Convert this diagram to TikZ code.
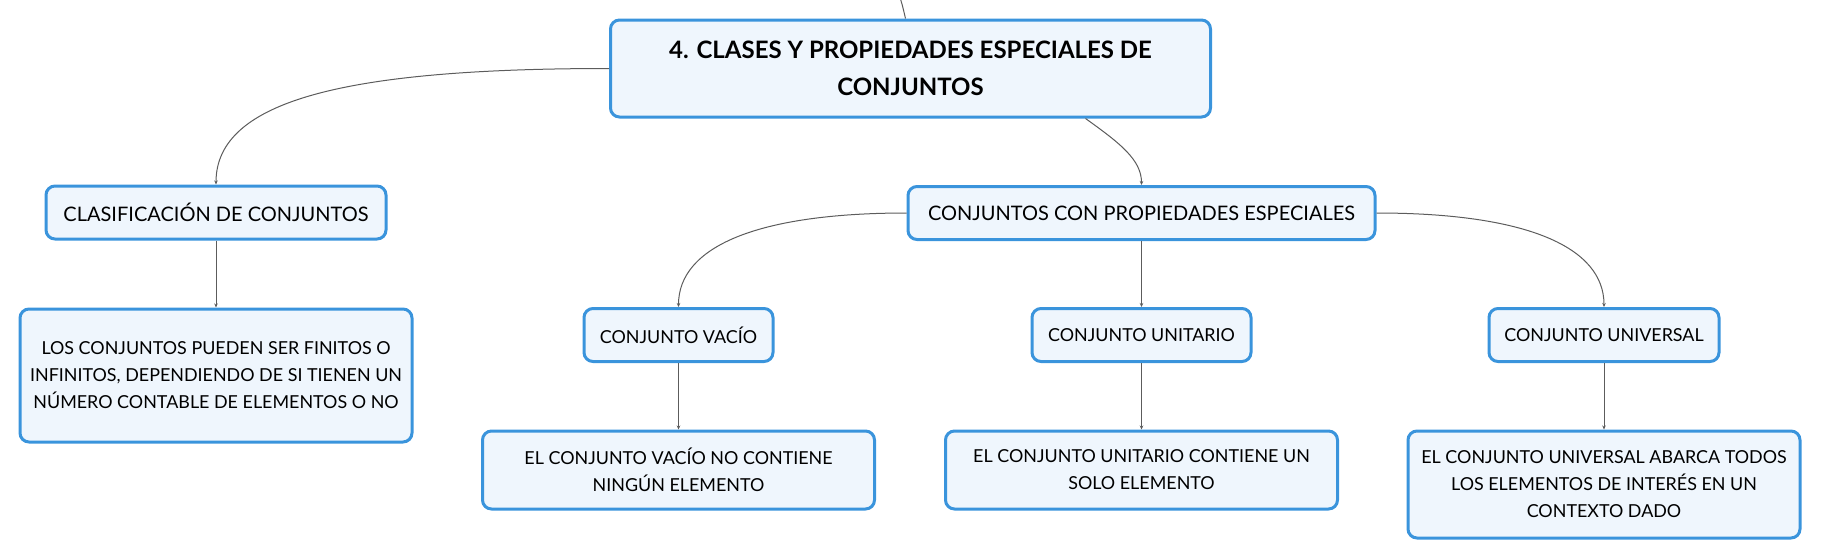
\documentclass[tikz,border=0pt]{standalone}
\usepackage{fontspec}
\setmainfont{Lato}
\usetikzlibrary{arrows.meta}
\definecolor{boxline}{HTML}{3A94DC}
\definecolor{boxfill}{HTML}{EFF6FD}
\definecolor{linkgray}{HTML}{5C5C5C}
\begin{document}
\begin{tikzpicture}[x=1pt,y=-1pt,
		box/.style={draw=boxline, fill=boxfill, line width=3pt, rounded corners=9pt, align=center, inner sep=0pt},
		head/.style={box, font=\fontsize{20}{24}\selectfont, minimum height=53},
		subhead/.style={head, font=\fontsize{17.9}{24}\selectfont},
		body/.style={box, font=\fontsize{17.9}{27}\selectfont, minimum width=392},
		link/.style={draw=linkgray, line width=1pt, -{Stealth[length=4pt,width=3.5pt]}}]
		\useasboundingbox (0,0) rectangle (1821,558);
		\node (main) [box, font=\bfseries\fontsize{24}{37}\selectfont, minimum width=600, minimum height=97] at (910.5,68.5) {4. CLASES Y PROPIEDADES ESPECIALES DE\\CONJUNTOS};
		\node (clasif) [head, minimum width=340] at (216,212.5) {CLASIFICACIÓN DE CONJUNTOS};
		\node (finitos) [body, minimum height=133] at (216,375.5) {LOS CONJUNTOS PUEDEN SER FINITOS O\\INFINITOS, DEPENDIENDO DE SI TIENEN UN\\NÚMERO CONTABLE DE ELEMENTOS O NO};
		\node (especiales) [head, minimum width=467] at (1141.5,213) {CONJUNTOS CON PROPIEDADES ESPECIALES};
		\node (vacio) [subhead, minimum width=189] at (678.5,335) {CONJUNTO VACÍO};
		\node (unitario) [subhead, minimum width=219] at (1141.5,335) {CONJUNTO UNITARIO};
		\node (universal) [subhead, minimum width=230] at (1604,335) {CONJUNTO UNIVERSAL};
		\node (vaciotxt) [body, minimum height=78] at (678.5,470) {EL CONJUNTO VACÍO NO CONTIENE\\NINGÚN ELEMENTO};
		\node (unitariotxt) [body, minimum height=78] at (1141.5,470) {EL CONJUNTO UNITARIO CONTIENE UN\\SOLO ELEMENTO};
		\node (universaltxt) [body, minimum height=107] at (1604,484.5) {EL CONJUNTO UNIVERSAL ABARCA TODOS\\LOS ELEMENTOS DE INTERÉS EN UN\\CONTEXTO DADO};
		\coordinate (parent) at (886,-30);
		
		\draw[draw=linkgray, line width=1pt] (parent) .. controls (900,-5) .. ([xshift=-5]main.north);
		\draw[link] (main.west) .. controls +(-260,0) and +(0,-85) .. (clasif.north);
		\draw[link] ([xshift=175]main.south) .. controls +(35,25) and +(0,-25) .. (especiales.north);
		\draw[link] (clasif.south) -- (finitos.north);
		\draw[link] (especiales.west) .. controls +(-150,0) and +(0,-60) .. (vacio.north);
		\draw[link] (especiales.south) -- (unitario.north);
		\draw[link] (especiales.east) .. controls +(150,0) and +(0,-60) .. (universal.north);
		\draw[link] (vacio.south) -- (vaciotxt.north);
		\draw[link] (unitario.south) -- (unitariotxt.north);
		\draw[link] (universal.south) -- (universaltxt.north);
	\end{tikzpicture}
\end{document}
